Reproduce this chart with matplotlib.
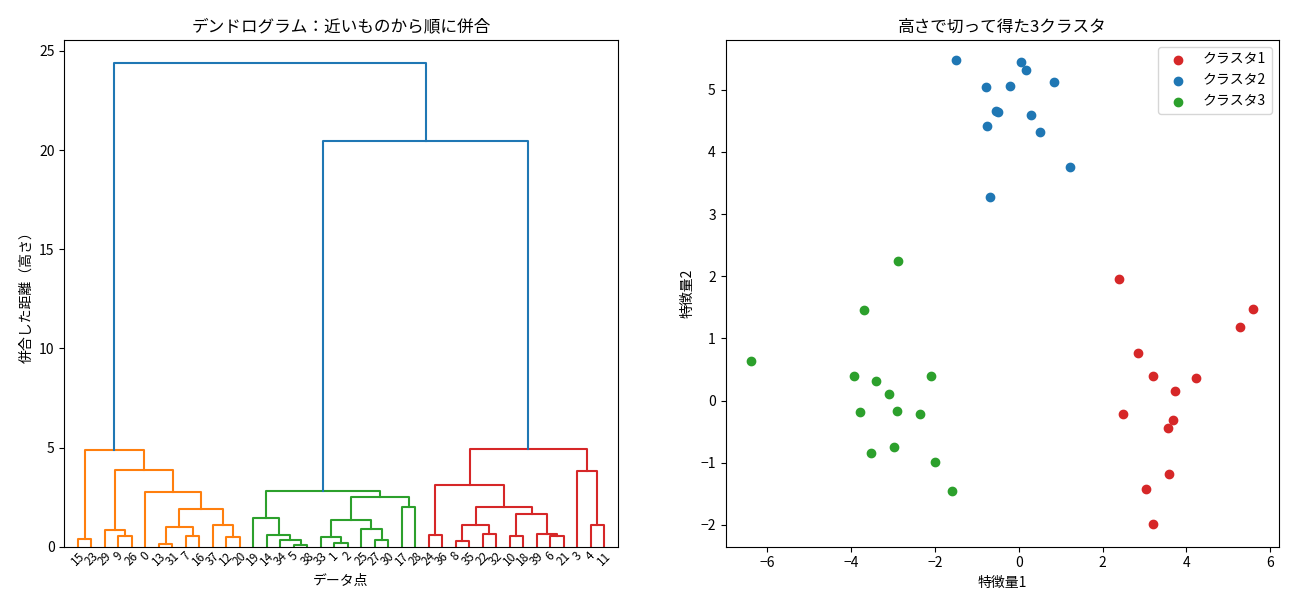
import matplotlib
matplotlib.use("Agg")
import matplotlib.pyplot as plt

plt.rcParams['font.family'] = ['Noto Sans CJK JP', 'DejaVu Sans']

# dendrogram: leaf order and merge tree (left, right, height)
leaf_order = [15, 23, 29, 9, 26, 0, 13, 31, 7, 16, 37, 12, 20,
              19, 14, 34, 5, 38, 33, 1, 2, 25, 27, 30, 17, 28,
              24, 36, 8, 35, 22, 32, 10, 18, 39, 6, 21, 3, 4, 11]

orange_tree = ((15, 23, 0.40),
               ((29, (9, 26, 0.55), 0.82),
                (0, (((13, 31, 0.15), (7, 16, 0.55), 1.00),
                     (37, (12, 20, 0.50), 1.10), 1.90), 2.75), 3.85), 4.90)
green_tree = ((19, (14, (34, (5, 38, 0.07), 0.32), 0.60), 1.45),
              (((33, (1, 2, 0.18), 0.49), (25, (27, 30, 0.32), 0.89), 1.33),
               (17, 28, 1.98), 2.50), 2.82)
red_tree = (((24, 36, 0.60),
             (((8, 35, 0.29), (22, 32, 0.65), 1.09),
              ((10, 18, 0.55), (39, (6, 21, 0.55), 0.65), 1.65), 2.00), 3.12),
            (3, (4, 11, 1.10), 3.83), 4.94)
top_tree = (orange_tree, (green_tree, red_tree, 20.45), 24.40)
tree_colors = {id(orange_tree): 'C1', id(green_tree): 'C2', id(red_tree): 'C3'}

# scatter data per cluster
c1_x = [2.38, 5.59, 5.28, 2.84, 3.20, 4.23, 3.72, 2.48, 3.68, 3.56, 3.58, 3.03, 3.20]
c1_y = [1.95, 1.47, 1.19, 0.77, 0.39, 0.37, 0.15, -0.21, -0.31, -0.44, -1.18, -1.42, -1.98]
c2_x = [-1.50, 0.06, 0.18, -0.78, -0.20, 0.83, -0.54, -0.49, 0.30, -0.75, 0.51, 1.23, -0.68]
c2_y = [5.47, 5.44, 5.31, 5.05, 5.06, 5.13, 4.65, 4.64, 4.60, 4.42, 4.32, 3.76, 3.27]
c3_x = [-2.89, -3.70, -6.38, -3.93, -3.41, -2.09, -3.09, -3.79, -2.90, -2.36, -3.53, -2.97, -1.99, -1.59]
c3_y = [2.24, 1.45, 0.64, 0.40, 0.32, 0.40, 0.11, -0.19, -0.17, -0.21, -0.85, -0.75, -0.99, -1.45]

leaf_x = {leaf: 5 + 10 * i for i, leaf in enumerate(leaf_order)}


def draw_tree(ax, node, color):
    # returns (x, height) of the node
    if isinstance(node, int):
        return leaf_x[node], 0.0
    left, right, h = node
    c = tree_colors.get(id(node), color)
    lx, lh = draw_tree(ax, left, c)
    rx, rh = draw_tree(ax, right, c)
    ax.plot([lx, lx, rx, rx], [lh, h, h, rh], color=c, lw=1.5)
    return (lx + rx) / 2, h


fig, (ax1, ax2) = plt.subplots(1, 2, figsize=(12.89, 6.15), dpi=100)
fig.subplots_adjust(left=0.05, right=0.992, top=0.935, bottom=0.111, wspace=0.195)

draw_tree(ax1, top_tree, 'C0')
ax1.set_xlim(-5, 10 * len(leaf_order) + 5)
ax1.set_ylim(0, 25.55)
ax1.set_xticks([leaf_x[l] for l in leaf_order])
ax1.set_xticklabels([str(l) for l in leaf_order], rotation=45, fontsize=8.5)
ax1.tick_params(axis='x', length=0, pad=2)
ax1.set_title("デンドログラム：近いものから順に併合")
ax1.set_xlabel("データ点")
ax1.set_ylabel("併合した距離（高さ）")

ax2.scatter(c1_x, c1_y, color='C3', s=36, label="クラスタ1")
ax2.scatter(c2_x, c2_y, color='C0', s=36, label="クラスタ2")
ax2.scatter(c3_x, c3_y, color='C2', s=36, label="クラスタ3")
ax2.set_xlim(-7.0, 6.2)
ax2.set_ylim(-2.35, 5.8)
ax2.set_title("高さで切って得た3クラスタ")
ax2.set_xlabel("特徴量1")
ax2.set_ylabel("特徴量2")
ax2.legend(loc='upper right')

fig.savefig("out.png", dpi=100)
